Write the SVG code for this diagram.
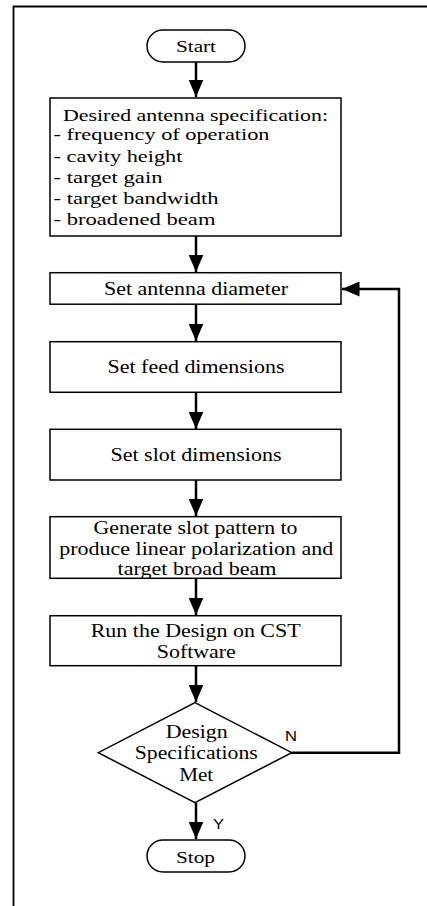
<svg xmlns="http://www.w3.org/2000/svg" width="427" height="906" viewBox="0 0 427 906">
<style>
.box{fill:#fff;stroke:#000;stroke-width:1.5}
.t{font-family:"Liberation Serif","Times New Roman",serif;font-size:18px;fill:#000}
.ts{font-family:"Liberation Serif","Times New Roman",serif;font-size:16.5px;fill:#000}
.lab{font-family:"Liberation Sans",Arial,sans-serif;font-size:15px;fill:#000}
.c{fill:none;stroke:#000;stroke-width:2.5}
.frame{fill:none;stroke:#000;stroke-width:1.8}
</style>
<defs>
<marker id="ah" markerWidth="7" markerHeight="6" refX="7" refY="3" orient="auto" markerUnits="strokeWidth">
<path d="M0,0 L7,3 L0,6 Z" fill="#000"/>
</marker>
</defs>
<rect width="427" height="906" fill="#fff"/>
<path class="frame" d="M13.5,906 V6.5 H427"/>
<g id="connectors">
<line class="c" x1="196" y1="62" x2="196" y2="97" marker-end="url(#ah)"/>
<line class="c" x1="196" y1="236" x2="196" y2="272" marker-end="url(#ah)"/>
<line class="c" x1="196" y1="304" x2="196" y2="341" marker-end="url(#ah)"/>
<line class="c" x1="196" y1="392" x2="196" y2="429" marker-end="url(#ah)"/>
<line class="c" x1="196" y1="480" x2="196" y2="516" marker-end="url(#ah)"/>
<line class="c" x1="196" y1="578" x2="196" y2="615" marker-end="url(#ah)"/>
<line class="c" x1="196" y1="666" x2="196" y2="702" marker-end="url(#ah)"/>
<line class="c" x1="196" y1="803" x2="196" y2="839" marker-end="url(#ah)"/>
<path class="c" d="M291.7,752.7 H399 V289 H342" marker-end="url(#ah)"/>
<text class="lab" x="285" y="741" textLength="12" lengthAdjust="spacingAndGlyphs">N</text>
<text class="lab" x="213" y="828.5" textLength="11" lengthAdjust="spacingAndGlyphs">Y</text>
</g>
<g id="start">
<rect class="box" x="147" y="30" width="98" height="32" rx="16"/>
<text class="ts" x="196" y="51.5" text-anchor="middle" textLength="40" lengthAdjust="spacingAndGlyphs">Start</text>
</g>
<g id="spec">
<rect class="box" x="50" y="98" width="291" height="138"/>
<text class="ts" x="63" y="120.5" textLength="265" lengthAdjust="spacingAndGlyphs">Desired antenna specification:</text>
<text class="ts" x="53.5" y="140" textLength="216" lengthAdjust="spacingAndGlyphs">- frequency of operation</text>
<text class="ts" x="53.5" y="161.5" textLength="129" lengthAdjust="spacingAndGlyphs">- cavity height</text>
<text class="ts" x="53.5" y="183" textLength="109" lengthAdjust="spacingAndGlyphs">- target gain</text>
<text class="ts" x="53.5" y="204" textLength="165" lengthAdjust="spacingAndGlyphs">- target bandwidth</text>
<text class="ts" x="53.5" y="225" textLength="162" lengthAdjust="spacingAndGlyphs">- broadened beam</text>
</g>
<g id="diameter">
<rect class="box" x="50" y="272.7" width="291" height="31.5"/>
<text class="t" x="196" y="295" text-anchor="middle" textLength="184" lengthAdjust="spacingAndGlyphs">Set antenna diameter</text>
</g>
<g id="feed">
<rect class="box" x="50" y="341.7" width="291" height="50.6"/>
<text class="t" x="196" y="372.7" text-anchor="middle" textLength="177" lengthAdjust="spacingAndGlyphs">Set feed dimensions</text>
</g>
<g id="slot">
<rect class="box" x="50" y="429.3" width="291" height="50.7"/>
<text class="t" x="196" y="460.7" text-anchor="middle" textLength="171" lengthAdjust="spacingAndGlyphs">Set slot dimensions</text>
</g>
<g id="pattern">
<rect class="box" x="50" y="516.7" width="291" height="61.6"/>
<text class="t" x="195.5" y="533.5" text-anchor="middle" textLength="204" lengthAdjust="spacingAndGlyphs">Generate slot pattern to</text>
<text class="t" x="196.3" y="554.5" text-anchor="middle" textLength="274" lengthAdjust="spacingAndGlyphs">produce linear polarization and</text>
<text class="t" x="197" y="575" text-anchor="middle" textLength="159" lengthAdjust="spacingAndGlyphs">target broad beam</text>
</g>
<g id="run">
<rect class="box" x="50" y="615.7" width="291" height="50"/>
<text class="t" x="195.7" y="637" text-anchor="middle" textLength="210" lengthAdjust="spacingAndGlyphs">Run the Design on CST</text>
<text class="t" x="196.3" y="657.5" text-anchor="middle" textLength="79" lengthAdjust="spacingAndGlyphs">Software</text>
</g>
<g id="decision">
<polygon class="box" points="195,702.7 291.7,752.7 195,802.7 98.3,752.7"/>
<text class="t" x="196.7" y="738" text-anchor="middle" textLength="62" lengthAdjust="spacingAndGlyphs">Design</text>
<text class="t" x="196.3" y="759" text-anchor="middle" textLength="123" lengthAdjust="spacingAndGlyphs">Specifications</text>
<text class="t" x="196.2" y="780.5" text-anchor="middle" textLength="34" lengthAdjust="spacingAndGlyphs">Met</text>
</g>
<g id="stop">
<rect class="box" x="147" y="840" width="98" height="32" rx="16"/>
<text class="ts" x="195.5" y="863" text-anchor="middle" textLength="39" lengthAdjust="spacingAndGlyphs">Stop</text>
</g>
</svg>
